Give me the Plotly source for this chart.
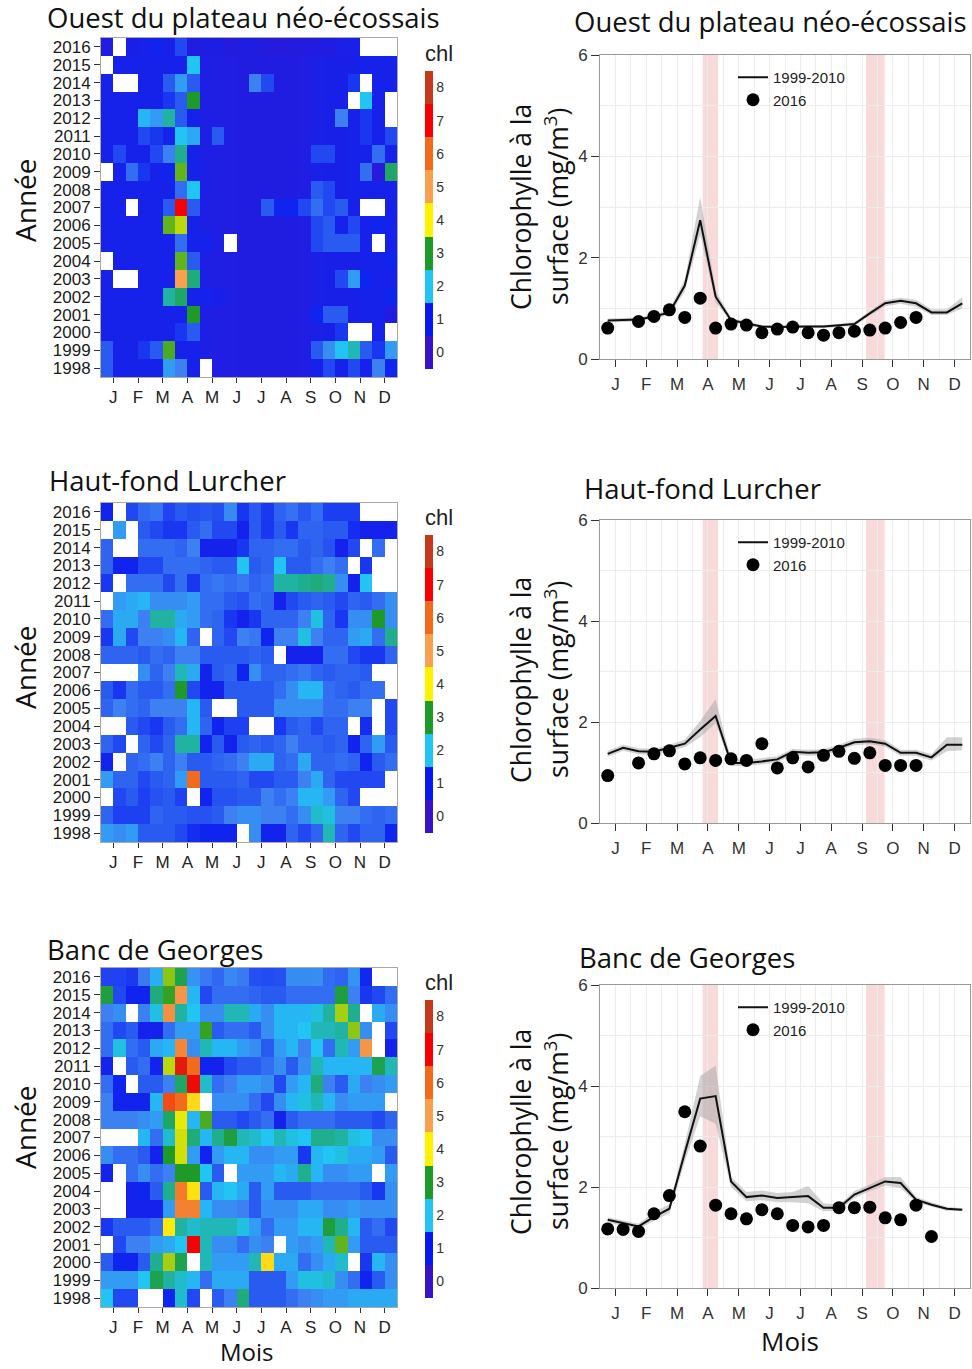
import plotly.graph_objects as go

W, H = 972, 1369

# ---------------------------------------------------------------- data
months = ["J", "F", "M", "A", "M", "J", "J", "A", "S", "O", "N", "D"]
years = list(range(1998, 2017))
periods = list(range(24))  # semi-monthly periods (heatmap columns)
period_mid = [0.25, 0.75, 1.25, 1.75, 2.25, 2.75, 3.25, 3.75, 4.25, 4.75, 5.25, 5.75,
              6.25, 6.75, 7.25, 7.75, 8.25, 8.75, 9.25, 9.75, 10.25, 10.75, 11.25, 11.75]
N = None

# Ouest du plateau néo-écossais : 1998 -> 2015
ouest_rows = [
    [1.3, .85, .85, .85, .85, 1.7, 1.5, .85, N, .65, .65, .6, .6, .6, .6, .6, .65, .85, 1.2, .85, 1.2, .9, 1.5, 1.0],
    [1.3, .85, .85, 1.1, 1.3, 3.2, .85, .85, .7, .65, .65, .6, .6, .6, .6, .6, .65, 1.3, 1.6, 2.0, 2.3, 1.3, 1.1, 1.7],
    [.85, .85, .85, .85, .85, .85, 1.1, 1.3, .7, .65, .65, .6, .6, .6, .6, .6, .65, .75, .8, 1.1, N, N, .85, N],
    [.85, .85, .85, .85, .85, .85, .9, 3.0, .7, .65, .65, .6, .6, .6, .6, .6, .65, 1.0, 1.3, 1.3, .8, .85, .85, .6],
    [.85, .85, .85, .85, .85, 2.4, 2.7, .85, .9, .8, .7, .6, .6, .6, .6, .6, .65, .75, .8, .8, .8, .85, .85, 1.0],
    [.85, N, N, .85, .85, .85, 5.0, 2.6, .7, .65, .65, .6, .6, .6, .6, .6, .65, .75, .8, 1.2, 1.7, 1.0, .85, .85],
    [N, .85, .85, .85, .85, .85, 3.3, 1.3, .7, .65, .65, .6, .6, .6, .6, .6, .65, .75, .8, .8, .8, .85, .85, 1.0],
    [.85, .85, .85, .85, .85, .85, 1.4, .85, .9, .7, N, .6, .6, .6, .6, .6, .65, 1.2, 1.3, 1.3, 1.3, .85, N, .85],
    [.85, .85, .85, .85, .85, 3.3, 3.7, .85, .7, .65, .65, .6, .6, .6, .6, .6, .65, 1.2, 1.3, .9, 1.2, .85, 1.0, .85],
    [.85, .85, N, .85, .85, 1.3, 7.0, 1.3, .7, .65, .65, .6, .6, 1.3, 1.0, 1.0, 1.2, 1.4, 1.2, 1.3, .85, N, N, .85],
    [.85, .85, .85, .85, .85, .85, 1.4, 2.0, .7, .65, .65, .6, .6, .6, .6, .6, .65, 1.3, 1.2, .8, .85, .85, .85, .85],
    [N, .85, 1.4, 1.1, .85, 1.0, 3.3, .85, .7, .65, .65, .6, .6, .6, .6, .6, .65, .75, .8, .8, .85, 1.4, .4, 2.7],
    [.85, 1.2, .85, .85, 1.2, 1.5, 2.5, .85, .7, .65, .65, .6, .6, .6, .6, .6, .65, 1.2, 1.2, .8, .85, .85, 1.4, .85],
    [.85, .85, .85, 1.2, 1.1, .9, 2.0, 1.8, .7, 1.3, .65, .6, .6, .6, .6, .6, .65, .75, .8, .8, .85, 1.1, .85, 1.2],
    [.85, .85, .85, 1.9, 1.7, 2.4, 1.3, .85, .7, .65, .65, .6, .6, .6, .6, .6, .65, .75, .8, 1.5, .85, 1.1, .85, N],
    [.85, .85, .85, .85, .85, 1.1, 1.3, 3.0, .7, .65, .65, .6, .6, .6, .6, .6, .65, .75, .8, .8, N, 2.0, .85, N],
    [.85, N, N, .85, .85, 1.3, 1.7, 1.3, .7, .65, .65, .6, 1.5, 1.2, .6, .6, .65, .75, .8, .8, 1.1, N, .85, .85],
    [N, .85, .85, .85, .85, .85, .85, 2.0, .7, .65, .65, .6, .6, .6, .6, .6, .65, .75, .8, .8, .8, .85, .85, .85],
]
ouest_2016 = [0.61, N, 0.74, 0.84, 0.97, 0.82, 1.20, 0.61, 0.69, 0.67, 0.52, 0.59,
              0.63, 0.52, 0.47, 0.52, 0.55, 0.57, 0.61, 0.72, 0.82, N, N, N]
ouest_clim = [0.76, 0.77, 0.78, 0.84, 0.92, 1.45, 2.74, 1.23, 0.77, 0.70, 0.64, 0.63,
              0.64, 0.64, 0.64, 0.66, 0.69, 0.90, 1.10, 1.15, 1.10, 0.92, 0.92, 1.10]
ouest_lo = [0.72, 0.73, 0.74, 0.80, 0.87, 1.33, 2.45, 1.12, 0.73, 0.66, 0.61, 0.60,
            0.61, 0.61, 0.61, 0.63, 0.65, 0.86, 1.04, 1.09, 1.03, 0.87, 0.87, 1.00]
ouest_hi = [0.80, 0.81, 0.82, 0.88, 0.97, 1.57, 3.20, 1.35, 0.81, 0.74, 0.67, 0.66,
            0.67, 0.67, 0.67, 0.69, 0.73, 0.95, 1.16, 1.21, 1.17, 0.98, 0.98, 1.22]

# Haut-fond Lurcher : 1998 -> 2015
lurcher_rows = [
    [1.7, 1.6, 1.7, 1.3, 1.3, 1.3, 1.2, 1.05, 1.0, 1.0, 1.0, N, 1.6, 0.95, 0.9, 1.35, 1.2, 1.35, 2.3, 1.35, 1.2, 1.35, 1.35, 1.0],
    [1.35, 1.15, 1.15, 1.15, 1.35, 1.3, 1.3, 1.25, 1.25, 1.3, 1.5, 1.6, 1.6, 1.5, 1.5, 1.4, 1.6, 2.2, 2.1, 1.5, 1.5, 1.4, 1.35, 1.4],
    [N, 1.2, 1.3, 1.15, 1.25, 1.3, 1.15, N, 0.95, 1.25, 1.25, 1.3, 1.3, 1.5, 1.4, 1.5, 1.9, 1.9, 1.7, 1.35, 1.2, N, N, N],
    [1.7, 1.35, 1.35, 1.2, 1.3, 1.35, 1.7, 6.0, 1.3, 1.3, 1.3, 1.35, 1.2, 1.2, 1.3, 1.3, 1.5, 1.8, 1.35, 1.2, 1.2, 1.2, 1.2, N],
    [0.95, N, 1.35, 1.4, 1.5, 1.35, 1.5, 1.3, 1.3, 1.35, 1.4, 1.5, 1.8, 1.8, 1.35, 1.4, 1.8, 1.35, 1.35, 1.4, 1.35, 1.0, 1.3, 1.4],
    [1.35, 1.2, N, 1.35, 1.2, 1.35, 2.4, 2.4, 0.95, 1.3, 0.95, 1.3, 1.35, 1.3, 1.35, 1.5, 1.35, 1.35, 1.3, 1.35, 0.95, 1.35, 1.7, 1.3],
    [N, N, 1.3, 1.2, 1.1, 1.3, 1.4, 1.9, 1.35, 1.0, 1.15, 1.15, N, N, 1.1, 1.3, 1.35, 1.2, 1.35, 1.35, N, 1.05, N, 1.2],
    [1.35, 1.5, 1.4, 1.35, 1.5, 1.5, 1.5, 1.9, 1.3, N, N, 1.3, 1.3, 1.3, 1.6, 1.6, 1.6, 1.6, 1.4, 1.4, 1.5, 1.5, N, 1.2],
    [1.3, 1.1, 1.4, 1.3, 1.3, 1.4, 3.0, 1.2, 0.95, 0.95, 1.3, 1.3, 1.3, 1.3, 1.4, 1.6, 1.9, 1.9, 1.4, 1.35, 1.3, 1.4, 1.4, N],
    [N, N, N, 1.6, 1.35, 1.5, 2.3, 1.8, 0.95, 1.3, 1.35, 1.0, 1.6, 1.35, 1.35, 1.4, 1.45, 1.35, 1.3, 1.35, 1.35, 1.3, N, N],
    [1.35, 1.35, 1.35, 1.3, 1.4, 1.35, 1.5, 1.5, 1.3, 1.3, 1.3, 1.3, 1.35, 1.3, N, 0.9, 0.9, 0.9, 1.4, 1.4, 1.2, 1.1, 1.1, 1.35],
    [1.1, 1.8, 1.2, 1.5, 1.5, 1.6, 1.9, 1.35, N, 1.35, 1.2, 1.5, 1.45, 1.0, 1.5, 1.5, 2.1, 1.5, 1.35, 1.35, 1.7, 1.8, 1.4, 2.5],
    [1.4, 1.8, 1.8, 1.5, 2.4, 2.4, 1.8, 1.7, 1.4, 1.35, 1.1, 0.9, 1.1, 1.35, 1.35, 1.35, 1.5, 2.1, 1.35, 1.1, 1.6, 1.6, 3.0, 1.6],
    [N, 1.7, 1.8, 1.9, 1.6, 1.6, 1.6, 1.7, 1.4, 1.4, 1.3, 1.25, 1.4, 1.35, 0.9, 1.2, 1.3, 1.35, 1.3, 1.2, 1.35, 1.3, 1.4, 1.6],
    [1.1, N, 1.4, 1.4, 1.4, 1.2, 1.4, 1.1, 1.4, 1.45, 1.4, 1.45, 1.35, 1.4, 2.4, 2.4, 2.5, 2.6, 2.5, 1.6, 0.9, 2.0, N, N],
    [1.35, 0.95, 0.95, 1.2, 1.2, 1.4, 1.4, 1.4, 1.35, 1.3, 1.3, 2.0, 1.3, 1.35, 2.0, 1.3, 1.3, 1.4, 1.5, 1.4, N, 1.1, N, N],
    [1.35, N, N, 1.4, 1.4, 1.4, 1.35, 1.5, 0.9, 0.9, 0.9, 1.1, 1.35, 1.35, 1.4, 1.4, 1.3, 1.35, 1.25, 0.9, 1.2, N, 1.4, N],
    [N, 1.7, N, 1.3, 1.2, 1.1, 1.1, 1.3, 1.4, 1.2, 1.2, 0.9, 1.3, 1.1, 1.3, 1.1, 1.35, 1.35, 1.3, 1.3, 1.05, 0.9, 0.9, 0.9],
]
lurcher_2016 = [0.94, N, 1.19, 1.37, 1.43, 1.17, 1.29, 1.24, 1.27, 1.24, 1.57, 1.09,
                1.29, 1.11, 1.34, 1.42, 1.28, 1.39, 1.14, 1.14, 1.14, N, N, N]
lurcher_clim = [1.37, 1.49, 1.42, 1.41, 1.49, 1.57, 1.85, 2.12, 1.19, 1.19, 1.22, 1.26,
                1.41, 1.39, 1.40, 1.49, 1.60, 1.62, 1.57, 1.39, 1.39, 1.30, 1.55, 1.55]
lurcher_lo = [1.31, 1.43, 1.36, 1.35, 1.43, 1.50, 1.70, 1.98, 1.13, 1.13, 1.16, 1.20,
              1.35, 1.33, 1.34, 1.43, 1.54, 1.56, 1.51, 1.33, 1.33, 1.24, 1.42, 1.44]
lurcher_hi = [1.43, 1.55, 1.48, 1.47, 1.55, 1.65, 2.02, 2.45, 1.26, 1.25, 1.28, 1.32,
              1.47, 1.45, 1.46, 1.55, 1.67, 1.69, 1.64, 1.45, 1.45, 1.36, 1.70, 1.70]

# Banc de Georges : 1998 -> 2015
georges_rows = [
    [2.0, 1.2, 1.2, N, N, 1.0, 2.2, 1.2, N, 1.3, 1.5, 2.6, 1.3, 1.3, 1.3, 1.4, 1.5, 1.6, 1.7, 1.7, 1.8, 1.8, 1.8, 1.8],
    [1.7, 1.7, 1.7, 2.0, 2.8, 2.4, 2.2, 1.9, 1.4, 1.8, 1.8, 1.8, 1.3, 1.3, 1.3, 1.7, 2.1, 2.1, 2.2, 1.6, 1.4, 1.0, 1.3, 1.6],
    [1.3, 1.0, 1.0, 1.3, 2.5, 3.6, 2.8, N, 2.3, 1.7, 1.7, 1.7, 2.3, 4.3, 1.8, 1.8, 1.4, 1.6, 1.8, 2.2, N, 1.1, 1.9, 1.6],
    [N, 1.2, 1.5, 1.5, 1.7, 1.8, 2.0, 7.0, 2.3, 1.6, 1.6, 1.4, 1.6, 1.5, N, 1.7, 1.6, 1.7, 2.3, 3.3, 1.7, 1.3, 1.3, 1.3],
    [1.1, 1.3, 1.3, 1.3, 1.4, 4.1, 2.4, 2.2, 2.3, 2.3, 2.3, 2.1, 1.7, 1.4, 1.7, 1.7, 1.9, 1.9, 2.9, 2.5, 1.9, 1.3, 1.4, 1.2],
    [N, N, 0.9, 0.9, 0.9, 1.7, 5.6, 5.6, 1.9, 1.6, 1.6, 1.5, 1.3, 1.6, 1.6, 1.6, 1.8, 1.8, 1.6, 1.6, 1.7, 1.6, 1.6, 1.6],
    [N, N, 0.9, 1.0, 1.3, 2.5, 5.7, 4.2, 1.3, 1.9, 2.0, 1.8, 1.3, 1.7, 1.3, 1.3, 1.3, 1.4, 1.4, 1.4, 1.4, 1.3, 1.1, 1.6],
    [0.9, N, 1.4, 1.6, 1.4, 1.5, 3.0, 3.0, 2.0, 1.3, N, 1.7, 1.7, 1.7, 1.9, 1.8, 2.5, 1.9, 1.6, 1.6, 1.7, 1.7, N, 1.7],
    [1.6, 1.4, 1.4, 1.3, 0.95, 3.0, 3.8, 1.7, 1.0, 1.7, 1.9, 1.9, 1.6, 1.6, 1.7, 1.7, 1.1, 1.9, 2.0, 2.1, 1.8, 1.8, 1.7, 1.3],
    [N, N, N, 1.9, 1.4, 2.2, 3.8, 2.6, 1.9, 2.5, 2.9, 2.3, 2.2, 2.0, 2.3, 2.1, 2.0, 2.5, 2.5, 2.4, 2.1, 2.0, 1.6, 1.6],
    [1.5, 1.5, 1.5, 1.6, 1.7, 2.7, 3.9, 1.9, 3.2, 1.3, 1.3, 1.2, 1.3, 1.4, 0.9, 1.3, 1.4, 1.4, 1.4, 1.3, 1.3, 1.3, 1.2, 1.35],
    [1.5, 0.95, 0.95, 0.95, 1.9, 6.3, 6.0, 4.3, N, 1.6, 1.6, 1.6, 1.4, 1.2, 1.6, 1.9, 2.1, 2.3, 1.9, 1.6, 1.7, 1.7, 1.7, N],
    [1.4, 1.0, N, 1.3, 1.3, 1.5, 2.7, 7.2, 2.2, 1.4, 1.5, 1.7, 1.7, 1.6, 1.2, 1.7, 1.9, 2.6, 1.5, 1.3, 1.8, 1.5, 1.6, 1.7],
    [0.9, N, 1.3, 1.4, 0.95, 3.7, 7.5, 6.0, 1.0, 0.9, 1.2, 1.3, 1.3, 1.4, 1.6, 1.3, 1.6, 2.3, 1.9, 1.9, 1.9, 1.9, 2.8, 2.3],
    [1.4, 2.1, 1.4, 1.3, 1.8, 1.9, 5.5, 1.6, 2.3, 1.9, 1.9, 1.7, 1.6, 1.3, 1.7, 1.9, 1.5, 2.0, 1.4, 2.3, 1.7, 5.2, N, 0.9],
    [1.4, 1.2, 1.3, 0.9, 0.9, 1.4, 1.7, 1.7, 3.1, 1.3, 1.4, 1.4, 1.3, 1.6, 1.9, 1.9, 2.0, 2.3, 2.3, 2.4, 3.5, 1.6, N, 1.2],
    [1.5, 1.6, N, 1.5, 2.1, 5.3, 2.4, 2.0, 1.6, 1.6, 2.3, 2.3, 1.8, 1.6, 1.9, 1.9, 1.9, 2.1, 2.4, 3.6, 2.5, N, 1.8, 1.6],
    [2.9, 1.2, 1.0, 1.0, 2.6, 3.1, 5.2, 1.9, 1.2, 1.4, 1.4, 1.4, 1.35, 1.3, 1.3, 1.4, 1.4, 1.4, 1.4, 2.9, 1.5, 1.1, 1.2, 1.4],
]
georges_2016 = [1.17, 1.16, 1.12, 1.47, 1.83, 3.49, 2.81, 1.64, 1.47, 1.37, 1.55, 1.47,
                1.24, 1.21, 1.24, 1.59, 1.59, 1.60, 1.39, 1.35, 1.64, 1.02, N, N]
georges_clim = [1.35, 1.28, 1.22, 1.41, 1.57, 2.68, 3.75, 3.80, 2.11, 1.80, 1.83, 1.78,
                1.80, 1.82, 1.59, 1.59, 1.85, 1.98, 2.11, 2.08, 1.75, 1.65, 1.57, 1.55]
georges_lo = [1.30, 1.23, 1.17, 1.33, 1.48, 2.50, 3.40, 3.25, 2.00, 1.72, 1.74, 1.70,
              1.70, 1.68, 1.52, 1.53, 1.78, 1.92, 2.03, 1.98, 1.70, 1.61, 1.53, 1.52]
georges_hi = [1.40, 1.33, 1.27, 1.50, 1.66, 2.85, 4.20, 4.40, 2.20, 1.90, 1.93, 1.88,
              1.90, 2.02, 1.68, 1.65, 1.92, 2.05, 2.20, 2.20, 1.80, 1.70, 1.61, 1.58]

# periods highlighted on the seasonal panels (spring and autumn surveys)
survey_windows = [(3.33, 3.83), (8.63, 9.23)]

regions = [
    ("Ouest du plateau néo-écossais", ouest_rows, ouest_2016, ouest_clim, ouest_lo, ouest_hi),
    ("Haut-fond Lurcher", lurcher_rows, lurcher_2016, lurcher_clim, lurcher_lo, lurcher_hi),
    ("Banc de Georges", georges_rows, georges_2016, georges_clim, georges_lo, georges_hi),
]

# ---------------------------------------------------------------- styling
ZMIN, ZMAX = -0.5, 8.5
# continuous palette for the cells
chl_colors = [(-0.5, "#3d0ab8"), (0, "#3a12c8"), (1, "#1024f0"), (1.5, "#3c80f2"),
              (2, "#22c4f4"), (3, "#1d9a28"), (4, "#fff200"), (5, "#f8a050"),
              (6, "#f26b1d"), (7, "#f80000"), (8, "#c4391a"), (8.5, "#b83018")]
colorscale = [[(v - ZMIN) / (ZMAX - ZMIN), c] for v, c in chl_colors]
# one colour block per integer level for the colour key
key_colors = ["#3a12c8", "#0818f0", "#22c4f4", "#1d9a28", "#fff200",
              "#f8a050", "#f26b1d", "#f80000", "#c4391a"]
key_scale = []
for k, c in enumerate(key_colors):
    key_scale.append([(k - 0.5 - ZMIN) / (ZMAX - ZMIN), c])
    key_scale.append([(k + 0.5 - ZMIN) / (ZMAX - ZMIN), c])

FONT = "Liberation Sans, Arial, sans-serif"
TFONT = "Open Sans, Noto Sans, sans-serif"


def px_x(p):
    return p / W


def px_y(p):
    return 1 - p / H


# pixel boxes of each row of panels: (top, bottom)
heat_box = [(38, 377), (503, 842), (968, 1307)]
line_box = [(55, 359), (520, 823), (985, 1288)]
heat_x = (101, 397)
line_x = (600, 970)
cbar_mid = [205, 669, 1134]

left_titles = [(45, 18), (47, 481), (45, 949)]
right_titles = [(572, 21), (582, 488), (577, 957)]
annee_y = [200, 667, 1127]
ylab_y = [207, 680, 1132]
legend_top = [61, 526, 991]

fig = go.Figure()
layout = dict(
    width=W, height=H, margin=dict(l=0, r=0, t=0, b=0, autoexpand=False),
    paper_bgcolor="white", plot_bgcolor="white",
    font=dict(family=FONT, size=16, color="#222"),
    showlegend=True, annotations=[], shapes=[],
)

for i, (name, rows, d2016, clim, lo, hi) in enumerate(regions):
    hx, hy = f"x{2 * i + 1}", f"y{2 * i + 1}"
    lx, ly = f"x{2 * i + 2}", f"y{2 * i + 2}"
    hxa, hya = f"xaxis{2 * i + 1}", f"yaxis{2 * i + 1}"
    lxa, lya = f"xaxis{2 * i + 2}", f"yaxis{2 * i + 2}"
    top, bot = heat_box[i]
    ltop, lbot = line_box[i]

    z = rows + [d2016]
    fig.add_trace(go.Heatmap(
        x=periods, y=years, z=z, xaxis=hx, yaxis=hy,
        colorscale=colorscale, zmin=ZMIN, zmax=ZMAX, showlegend=False,
        showscale=False, hoverongaps=False,
    ))
    # colour key ("chl") drawn with one block per level
    fig.add_trace(go.Scatter(
        x=[None], y=[None], xaxis=hx, yaxis=hy, mode="markers", showlegend=False,
        hoverinfo="skip",
        marker=dict(
            color=[0], cmin=ZMIN, cmax=ZMAX, colorscale=key_scale, showscale=True,
            colorbar=dict(
                x=px_x(425), xanchor="left", xpad=0, ypad=0,
                y=px_y(cbar_mid[i]), yanchor="middle",
                len=328, lenmode="pixels", thickness=8, outlinewidth=0,
                tickvals=list(range(9)), ticks="", ticklabelposition="outside",
                tickfont=dict(family=FONT, size=14, color="#333"),
                title=dict(text="chl", side="top",
                           font=dict(family=FONT, size=22, color="#222")),
            ),
        ),
    ))

    layout[hxa] = dict(
        domain=[px_x(heat_x[0]), px_x(heat_x[1])], anchor=hy, range=[-0.5, 23.5],
        tickmode="array", tickvals=[0.5 + 2 * m for m in range(12)], ticktext=months,
        ticks="outside", ticklen=5, tickcolor="#333", showgrid=False, zeroline=False,
        showline=True, linecolor="#aaaaaa", linewidth=1, mirror=True,
        tickfont=dict(family=FONT, size=17, color="#222"),
    )
    layout[hya] = dict(
        domain=[px_y(bot), px_y(top)], anchor=hx, range=[1997.5, 2016.5],
        tickmode="array", tickvals=years, ticktext=[str(y) for y in years],
        ticks="outside", ticklen=6, tickcolor="#333", showgrid=False, zeroline=False,
        showline=True, linecolor="#aaaaaa", linewidth=1, mirror=True,
        tickfont=dict(family=FONT, size=17, color="#1a1a1a"),
    )

    # seasonal panel: ribbon, climatology line, 2016 points
    leg = "legend" if i == 0 else f"legend{i + 1}"
    fig.add_trace(go.Scatter(
        x=period_mid + period_mid[::-1], y=hi + lo[::-1], xaxis=lx, yaxis=ly,
        fill="toself", fillcolor="rgba(165,165,165,0.5)", line=dict(width=0),
        mode="lines", showlegend=False, hoverinfo="skip",
    ))
    fig.add_trace(go.Scatter(
        x=period_mid, y=clim, xaxis=lx, yaxis=ly, mode="lines",
        line=dict(color="#111", width=2), name="1999-2010", legend=leg,
    ))
    fig.add_trace(go.Scatter(
        x=period_mid, y=d2016, xaxis=lx, yaxis=ly, mode="markers",
        marker=dict(color="black", size=13), name="2016", legend=leg,
    ))
    layout[leg] = dict(
        x=px_x(733), xanchor="left", y=px_y(legend_top[i]), yanchor="top",
        bgcolor="rgba(0,0,0,0)", borderwidth=0, tracegroupgap=0,
        font=dict(family=FONT, size=15, color="#222"), itemwidth=30,
    )

    for a, b in survey_windows:
        layout["shapes"].append(dict(
            type="rect", xref=lx, yref=ly, x0=a, x1=b, y0=0, y1=6,
            fillcolor="#f9dada", line=dict(width=0), layer="below",
        ))

    layout[lxa] = dict(
        domain=[px_x(line_x[0]), px_x(line_x[1])], anchor=ly, range=[0, 12],
        tickmode="array", tickvals=[0.5 + m for m in range(12)], ticktext=months,
        ticks="outside", ticklen=7, tickcolor="#333", ticklabelstandoff=3,
        showgrid=True, gridcolor="#ececec",
        minor=dict(tickvals=list(range(13)), showgrid=True, gridcolor="#ececec", ticks=""),
        zeroline=False, showline=True, linecolor="#999", linewidth=1, mirror=True,
        tickfont=dict(family=FONT, size=17, color="#333"),
    )
    layout[lya] = dict(
        domain=[px_y(lbot), px_y(ltop)], anchor=lx, range=[0, 6],
        tickmode="array", tickvals=[0, 2, 4, 6],
        ticks="outside", ticklen=8, tickcolor="#333", showgrid=True, gridcolor="#ececec",
        minor=dict(tickvals=[1, 3, 5], showgrid=True, gridcolor="#ececec", ticks=""),
        zeroline=False, showline=True, linecolor="#999", linewidth=1, mirror=True,
        tickfont=dict(family=FONT, size=17, color="#333"),
    )

    ann = layout["annotations"]
    tx, ty = left_titles[i]
    ann.append(dict(text=name, x=px_x(tx), y=px_y(ty), xref="paper", yref="paper",
                    xanchor="left", yanchor="middle", showarrow=False,
                    font=dict(family=TFONT, size=27.5, color="#111")))
    tx, ty = right_titles[i]
    ann.append(dict(text=name, x=px_x(tx), y=px_y(ty), xref="paper", yref="paper",
                    xanchor="left", yanchor="middle", showarrow=False,
                    font=dict(family=TFONT, size=27.5, color="#111")))
    ann.append(dict(text="Année", x=px_x(25), y=px_y(annee_y[i]), xref="paper", yref="paper",
                    xanchor="center", yanchor="middle", textangle=-90, showarrow=False,
                    font=dict(family=TFONT, size=28, color="#111")))
    ann.append(dict(text="Chlorophylle à la", x=px_x(521), y=px_y(ylab_y[i]),
                    xref="paper", yref="paper", xanchor="center", yanchor="middle",
                    textangle=-90, showarrow=False,
                    font=dict(family=TFONT, size=26.5, color="#111")))
    ann.append(dict(text="surface (mg/m<sup>3</sup>)", x=px_x(556), y=px_y(ylab_y[i]),
                    xref="paper", yref="paper", xanchor="center", yanchor="middle",
                    textangle=-90, showarrow=False,
                    font=dict(family=TFONT, size=26.5, color="#111")))

layout["annotations"].append(dict(text="Mois", x=px_x(247), y=0, xref="paper", yref="paper",
                                  xanchor="center", yanchor="bottom", showarrow=False,
                                  borderpad=0, font=dict(family=TFONT, size=24, color="#111")))
layout["annotations"].append(dict(text="Mois", x=px_x(790), y=px_y(1341), xref="paper", yref="paper",
                                  xanchor="center", yanchor="middle", showarrow=False,
                                  borderpad=0, font=dict(family=TFONT, size=26, color="#111")))

fig.update_layout(**layout)
fig.write_html("out.html")
